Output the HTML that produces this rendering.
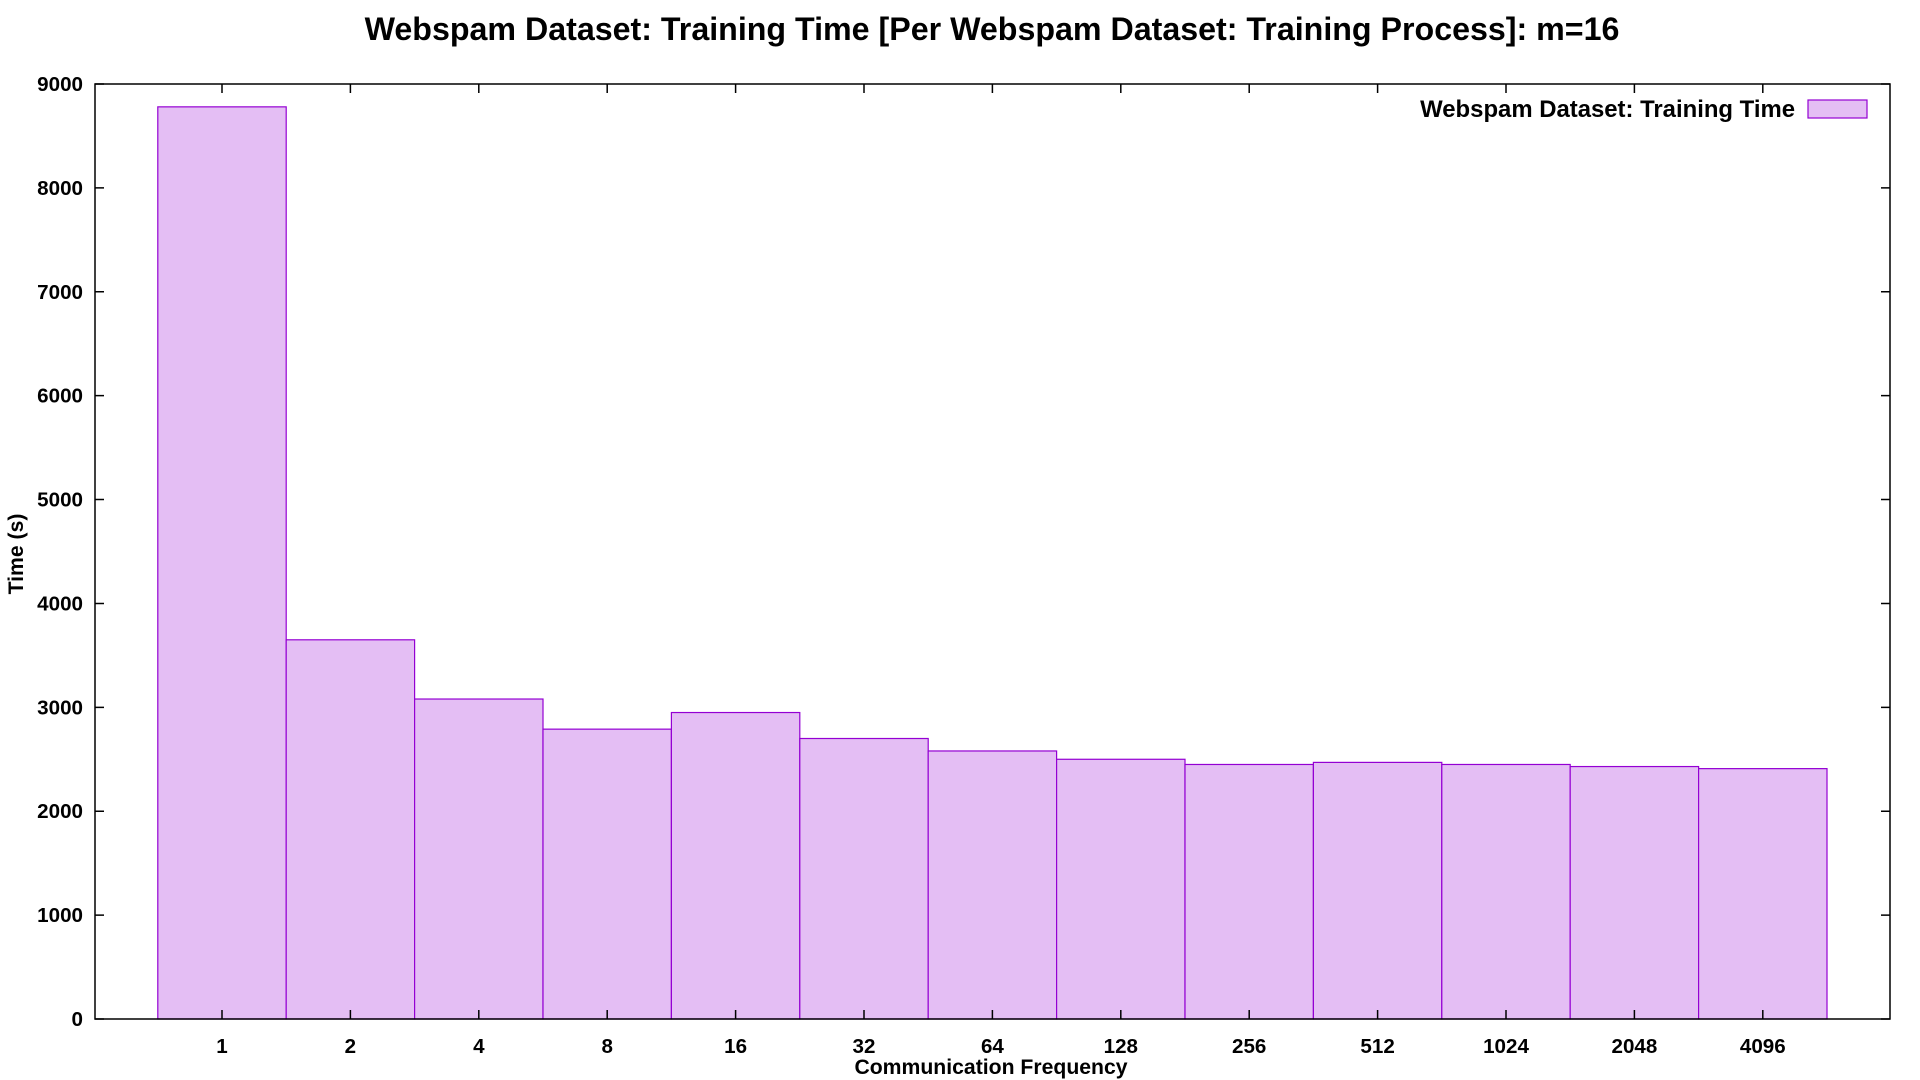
<!DOCTYPE html>
<html><head><meta charset="utf-8"><style>
html,body{margin:0;padding:0;background:#fff;}
svg{display:block;font-family:"Liberation Sans",Arial,sans-serif;font-weight:bold;}
</style></head><body>
<svg id="chart" width="1920" height="1080"></svg>
<script>
const categories=["1","2","4","8","16","32","64","128","256","512","1024","2048","4096"];
const trainingTime=[8780,3650,3080,2790,2950,2700,2580,2500,2450,2470,2450,2430,2410];
const yTicks=[0,1000,2000,3000,4000,5000,6000,7000,8000,9000];
const L=95,R=1890,T=84,B=1019,STEP=128.4;
const NS="http://www.w3.org/2000/svg";
const svg=document.getElementById('chart');
function y(v){return B-(v/9000)*(B-T);}
function x(i){return 222+i*STEP;}
function mk(tag,attrs,text){const e=document.createElementNS(NS,tag);for(const k in attrs)e.setAttribute(k,attrs[k]);if(text!==undefined)e.textContent=text;svg.appendChild(e);return e;}
let t=mk('text',{x:992,y:40,'font-size':32.2,'text-anchor':'middle'},'Webspam Dataset: Training Time [Per Webspam Dataset: Training Process]: m=16');


trainingTime.forEach((v,i)=>{
 const r=mk('rect',{x:x(i)-STEP/2,y:y(v),width:STEP,height:B-y(v),fill:'#e4bef4',stroke:'#9400d3','stroke-width':1.2});
 
 
});
yTicks.forEach(v=>{
 const l=mk('path',{d:`M${L} ${y(v)}h9M${R} ${y(v)}h-9`,stroke:'#000','stroke-width':1.5});
 
 
 const tx=mk('text',{x:83,y:y(v)+7,'font-size':20.6,'text-anchor':'end'},String(v));
 
 
});
categories.forEach((c,i)=>{
 const l=mk('path',{d:`M${x(i)} ${B}v-9M${x(i)} ${T}v9`,stroke:'#000','stroke-width':1.5});
 
 
 const tx=mk('text',{x:x(i),y:1053,'font-size':20.6,'text-anchor':'middle'},c);
 
 
});
const fr=mk('rect',{x:L,y:T,width:R-L,height:B-T,fill:'none',stroke:'#000','stroke-width':1.5});


const xl=mk('text',{x:991,y:1074,'font-size':21.2,'text-anchor':'middle'},'Communication Frequency');


const yl=mk('text',{x:0,y:0,'font-size':21.2,'text-anchor':'middle',transform:'translate(23,554) rotate(-90)'},'Time (s)');


const lt=mk('text',{x:1795,y:117,'font-size':23.9,'text-anchor':'end'},'Webspam Dataset: Training Time');


const ls=mk('rect',{x:1808,y:100,width:59,height:18,fill:'#e4bef4',stroke:'#9400d3','stroke-width':1.2});


</script>
</body></html>
